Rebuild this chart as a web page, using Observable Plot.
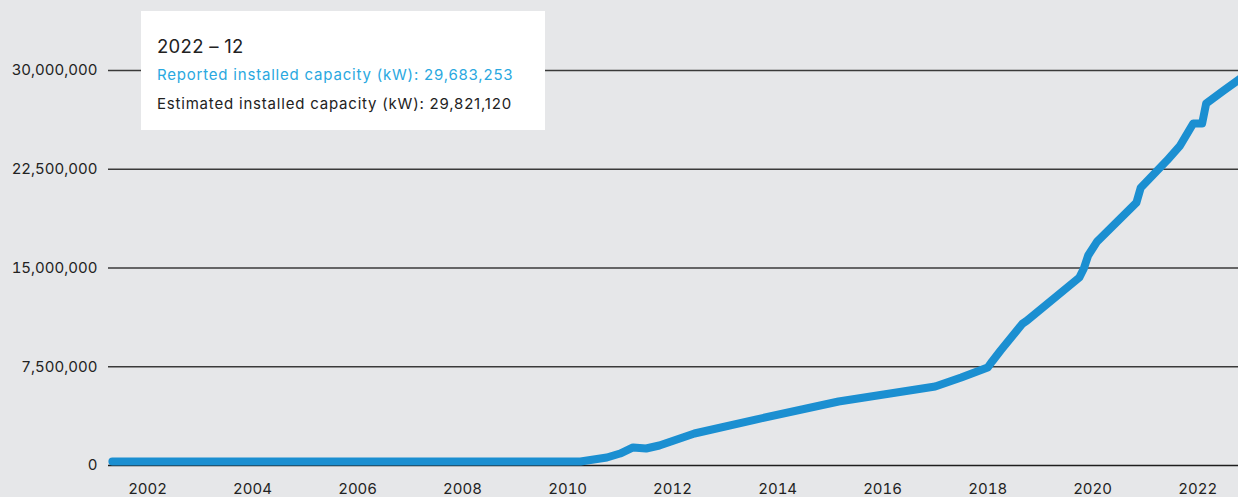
<!DOCTYPE html>
<html>
<head>
<meta charset="utf-8">
<script src="https://cdn.jsdelivr.net/npm/d3@7"></script>
<script src="https://cdn.jsdelivr.net/npm/@observablehq/plot@0.6"></script>
<style>
  html, body { margin: 0; padding: 0; background: #e6e7e9; }
  body { width: 1238px; height: 497px; overflow: hidden; position: relative; font-family: Inter, "Noto Sans", sans-serif; }
  #chart svg { display: block; }
  #tip { position: absolute; left: 141px; top: 11px; width: 404px; height: 119px; background: #ffffff; box-sizing: border-box; }
  #tip .t { position: absolute; left: 16px; white-space: nowrap; line-height: 1; }
  #tip .h { top: 26px; font-size: 18.5px; color: #222222; letter-spacing: 0.3px; }
  #tip .r { top: 56px; font-size: 15px; color: #2aa8e0; letter-spacing: 0.8px; }
  #tip .e { top: 85px; font-size: 15px; color: #222222; letter-spacing: 0.8px; }
</style>
</head>
<body>
<div id="chart"></div>
<div id="tip">
  <div class="t h" id="tipHead"></div>
  <div class="t r" id="tipRep"></div>
  <div class="t e" id="tipEst"></div>
</div>
<script>
// Monthly points (kW)
const months = ["2001-05","2010-04","2010-10","2011-01","2011-04","2011-07","2011-10","2012-06","2013-08","2015-03","2017-01","2017-07","2018-01","2018-02","2018-04","2018-09","2018-10","2019-10","2019-11","2019-12","2020-02","2020-11","2020-12","2021-06","2021-09","2021-12","2022-02","2022-03","2022-07","2022-12"];
const values = [300000,300000,610000,910000,1370000,1290000,1520000,2430000,3490000,4860000,6000000,6680000,7440000,7900000,8730000,10780000,11000000,14280000,14960000,15950000,17000000,19970000,21100000,23160000,24300000,25970000,25970000,27500000,28480000,29683253];

const yTicks = [0, 7500000, 15000000, 22500000, 30000000];
const xTickYears = [2002, 2004, 2006, 2008, 2010, 2012, 2014, 2016, 2018, 2020, 2022];

const tipMonth = "2022 – 12";
const tipReportedLabel = "Reported installed capacity (kW)";
const tipReported = 29683253;
const tipEstimatedLabel = "Estimated installed capacity (kW)";
const tipEstimated = 29821120;

const parse = d3.utcParse("%Y-%m");
const data = months.map((m, i) => ({date: parse(m), value: values[i]}));
const xTicks = xTickYears.map(y => new Date(Date.UTC(y, 0, 1)));

const chart = Plot.plot({
  width: 1238,
  height: 497,
  marginLeft: 108,
  marginRight: 0,
  marginTop: 70,
  marginBottom: 32,
  style: {background: "#e6e7e9", fontFamily: "Inter, 'Noto Sans', sans-serif", fontSize: "15px", color: "#222"},
  x: {
    type: "utc",
    domain: [new Date(Date.UTC(2001, 3, 4)), new Date(Date.UTC(2022, 9, 12))],
    ticks: xTicks,
    tickFormat: d3.utcFormat("%Y"),
    tickSize: 0,
    tickPadding: 18,
    label: null
  },
  y: {
    domain: [0, 30000000],
    ticks: yTicks,
    tickFormat: d3.format(","),
    tickSize: 0,
    tickPadding: 11,
    label: null
  },
  marks: [
    Plot.ruleY(yTicks.slice(1), {stroke: "#3a3a3a", strokeWidth: 1.3}),
    Plot.ruleY([0], {stroke: "#1e1e1e", strokeWidth: 1.6}),
    Plot.lineY(data, {x: "date", y: "value", stroke: "#1b8fd1", strokeWidth: 8, strokeLinejoin: "round", strokeLinecap: "round"})
  ]
});
document.getElementById("chart").appendChild(chart);

const fmt = d3.format(",");
document.getElementById("tipHead").textContent = tipMonth;
document.getElementById("tipRep").textContent = `${tipReportedLabel}: ${fmt(tipReported)}`;
document.getElementById("tipEst").textContent = `${tipEstimatedLabel}: ${fmt(tipEstimated)}`;
</script>
</body>
</html>
